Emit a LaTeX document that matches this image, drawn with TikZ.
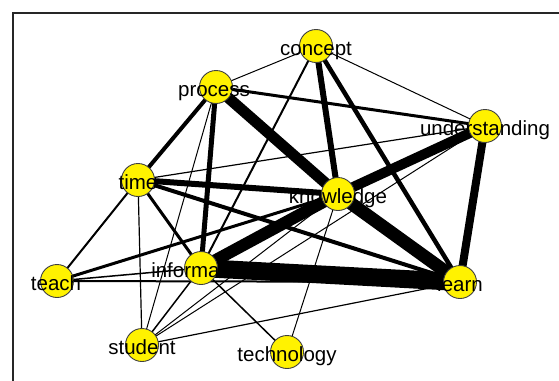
\documentclass[tikz,border=0pt]{standalone}
\usepackage{fontspec}
\setmainfont{Liberation Sans}
\usetikzlibrary{backgrounds}
\begin{document}
\begin{tikzpicture}[x=1pt,y=-1pt,
  vtx/.style={circle,draw=black!75,line width=0.9pt,fill=yellow,minimum size=33pt,inner sep=0pt},
  lbl/.style={anchor=base,inner sep=0pt,font=\fontsize{20.5}{24}\selectfont,text=black},
  tie/.style={line width=#1pt,black}]
\useasboundingbox (0,0) rectangle (559,380);
\begin{scope}
  \clip (0,0) rectangle (559,380);
  \draw[line width=2pt,black!85] (13,13) rectangle (580,400);
\end{scope}
% vertices
\node[vtx] (C)  at (316,46)  {};
\node[vtx] (P)  at (216,87)  {};
\node[vtx] (U)  at (485,126) {};
\node[vtx] (T)  at (138,180) {};
\node[vtx] (K)  at (338,194) {};
\node[vtx] (Te) at (57,281)  {};
\node[vtx] (I)  at (201,268) {};
\node[vtx] (L)  at (460,282) {};
\node[vtx] (S)  at (142,345) {};
\node[vtx] (X)  at (287,352) {};
% ties
\begin{scope}[on background layer]
  \draw[tie=11]  (P.center) -- (K.center);
  \draw[tie=13]  (K.center) -- (L.center);
  \draw[tie=18]  (I.center) -- (L.center);
  \draw[tie=12]  (I.center) -- (K.center);
  \draw[tie=10]  (K.center) -- (U.center);
  \draw[tie=8]   (U.center) -- (L.center);
  \draw[tie=6]   (C.center) -- (K.center);
  \draw[tie=6]   (T.center) -- (K.center);
  \draw[tie=4.5] (C.center) -- (L.center);
  \draw[tie=4]   (T.center) -- (L.center);
  \draw[tie=5]   (P.center) -- (I.center);
  \draw[tie=4]   (T.center) -- (P.center);
  \draw[tie=3]   (P.center) -- (U.center);
  \draw[tie=3]   (T.center) -- (I.center);
  \draw[tie=3]   (Te.center) -- (K.center);
  \draw[tie=2]   (Te.center) -- (T.center);
  \draw[tie=1.5] (Te.center) -- (I.center);
  \draw[tie=2]   (Te.center) -- (L.center);
  \draw[tie=1]   (C.center) -- (P.center);
  \draw[tie=1]   (C.center) -- (U.center);
  \draw[tie=2]   (C.center) -- (I.center);
  \draw[tie=1.2] (T.center) -- (U.center);
  \draw[tie=1.2] (T.center) -- (S.center);
  \draw[tie=1]   (P.center) -- (S.center);
  \draw[tie=1.5] (I.center) -- (S.center);
  \draw[tie=1]   (S.center) -- (K.center);
  \draw[tie=1]   (S.center) -- (U.center);
  \draw[tie=1.2] (S.center) -- (L.center);
  \draw[tie=1.5] (I.center) -- (X.center);
  \draw[tie=1]   (K.center) -- (X.center);
\end{scope}
% labels
\node[lbl] (Cl)  at (316,55)  {concept};
\node[lbl] (Pl)  at (214,96)  {process};
\node[lbl] (Ul)  at (485,135) {understanding};
\node[lbl] (Tl)  at (138,189) {time};
\node[lbl] (Kl)  at (338,203) {knowledge};
\node[lbl] (Tel) at (56,290)  {teach};
\node[lbl] (Il)  at (202,277) {information};
\node[lbl] (Ll)  at (460,291) {learn};
\node[lbl] (Sl)  at (142,354) {student};
\node[lbl] (Xl)  at (287,361) {technology};
\end{tikzpicture}
\end{document}
